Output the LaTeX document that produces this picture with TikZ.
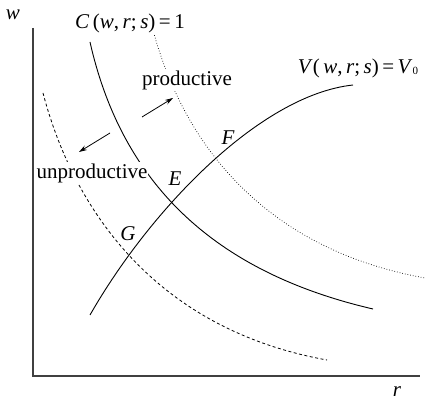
\documentclass[tikz,border=0pt]{standalone}
\usepackage{fontspec}
\setmainfont{Liberation Serif}
\usetikzlibrary{arrows.meta}
\tikzset{
  axis/.style={line width=1.4pt, draw=black!75},
  curve/.style={line width=0.9pt},
  lbl/.style={inner sep=1pt, font=\fontsize{21}{25}\selectfont},
  blank/.style={lbl, fill=white},
  move/.style={line width=0.8pt, -{Stealth[length=8pt,width=5pt]}}
}
\begin{document}
\begin{tikzpicture}[x=1pt,y=-1pt]
\useasboundingbox (0,0) rectangle (426,403);
% axes
\coordinate (O) at (33,376);
\coordinate (Ytop) at (33,28);
\coordinate (Xend) at (420,376);
\draw[axis] (Ytop) -- (O) -- (Xend);
\node[lbl] (wlab) at (13,15) {\textit{w}};
\node[lbl] (rlab) at (397,392) {\textit{r}};
% solid C curve
\draw[curve] (90,42) .. controls (120,175) and (205,270) .. (373,309);
% dotted upper curve
\draw[curve, line width=0.7pt, dotted] (153,30) .. controls (185,150) and (270,250) .. (425,278);
% dashed lower curve
\draw[curve, line width=0.8pt, dash pattern=on 3pt off 2.5pt] (43,93) .. controls (75,215) and (160,330) .. (327,360);
% V curve
\draw[curve] (90,315) .. controls (150,210) and (260,95) .. (353,85);
% labels
\node[blank] (Clab) at (130,23) {\textit{C}\,(\textit{w},\,\textit{r};\,\textit{s})\,=\,1};
\node[lbl] (Vlab) at (358,68) {\textit{V}(\,\textit{w},\,\textit{r};\,\textit{s})\,=\,\textit{V}\raisebox{-0.2ex}{\fontsize{11}{12}\selectfont 0}};
\node[blank] (prod) at (187,80) {productive};
\node[blank] (unprod) at (92,173) {unproductive};
\node[lbl] (E) at (175,179) {\textit{E}};
\node[lbl] (F) at (228,138) {\textit{F}};
\node[lbl] (G) at (128,234) {\textit{G}};
% direction arrows
\coordinate (a1s) at (142,117);
\coordinate (a1e) at (173,98);
\coordinate (a2s) at (110,133);
\coordinate (a2e) at (79,152);
\draw[move] (a1s) -- (a1e);
\draw[move] (a2s) -- (a2e);
\end{tikzpicture}
\end{document}
